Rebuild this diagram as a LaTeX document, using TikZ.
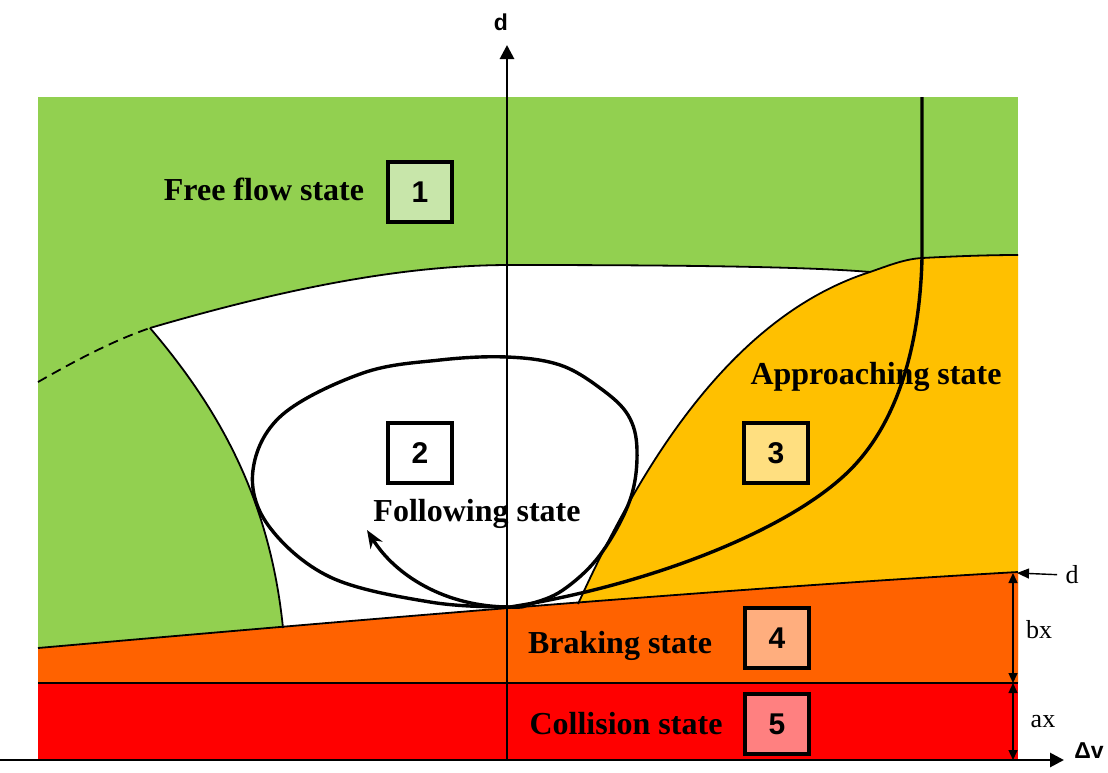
\documentclass[tikz,border=0pt]{standalone}
\usepackage{fontspec}
\setmainfont{Liberation Serif}
\setsansfont{Liberation Sans}
\usepackage{xcolor}
\usepackage{tikz}
\usetikzlibrary{arrows.meta}

\definecolor{freegreen}{HTML}{92D050}
\definecolor{approachyellow}{HTML}{FFC000}
\definecolor{brakeorange}{HTML}{FF6200}
\definecolor{collisionred}{HTML}{FF0000}
\definecolor{boxgreen}{HTML}{C8E6AA}
\definecolor{boxyellow}{HTML}{FFDF80}
\definecolor{boxorange}{HTML}{FFAE7E}
\definecolor{boxred}{HTML}{FF8080}

\begin{document}
\begin{tikzpicture}[x=0.5pt, y=-0.5pt, >=Stealth,
    boundary/.style={draw=black, line width=0.9pt},
    trajectory/.style={draw=black, line width=1.7pt},
    axisline/.style={line width=1.4pt, -{Triangle[length=7pt,width=7pt]}},
    dimline/.style={line width=0.7pt, {Triangle[length=5pt,width=4.5pt]}-{Triangle[length=5pt,width=4.5pt]}},
    statelabel/.style={anchor=base, inner sep=0pt, font=\bfseries\fontsize{16}{18}\selectfont},
    numbox/.style={draw, line width=1.6pt, minimum width=32pt, minimum height=30pt, inner sep=0pt,
                   font=\sffamily\bfseries\fontsize{15}{17}\selectfont},
    axislabel/.style={inner sep=0pt, font=\sffamily\bfseries\fontsize{11.5}{13}\selectfont},
    dimlabel/.style={inner sep=0pt, font=\fontsize{13}{15}\selectfont}]

  \useasboundingbox (0,0) rectangle (1108,772);

  \fill[freegreen] (38,97) rectangle (1018,683);
  \fill[white] (150,328) .. controls (280,290) and (400,265) .. (510,265)
        .. controls (650,265) and (800,266) .. (870,272)
        .. controls (720,320) and (630,490) .. (578,604) -- (565,660) -- (285,660) -- (283,628)
        .. controls (270,500) and (220,410) .. (150,328) -- cycle;
  \fill[approachyellow] (578,604) .. controls (630,490) and (720,320) .. (870,272)
        .. controls (890,265) and (905,259) .. (922,258)
        .. controls (960,256) and (990,255) .. (1018,255) -- (1018,660) -- (565,660) -- cycle;
  \fill[brakeorange] (38,648) .. controls (300,625) and (700,590) .. (1018,572)
        -- (1018,683) -- (38,683) -- cycle;
  \fill[collisionred] (38,683) rectangle (1018,760);

  \draw[boundary, dash pattern=on 5pt off 3pt] (38,382) .. controls (80,358) and (115,340) .. (150,328);
  \draw[boundary] (150,328) .. controls (280,290) and (400,265) .. (510,265)
        .. controls (650,265) and (800,266) .. (870,272)
        .. controls (890,265) and (905,259) .. (922,258)
        .. controls (960,256) and (990,255) .. (1018,255);
  \draw[boundary] (150,328) .. controls (220,410) and (270,500) .. (283,628);
  \draw[boundary] (578,604) .. controls (630,490) and (720,320) .. (870,272);
  \draw[boundary] (38,648) .. controls (300,625) and (700,590) .. (1018,572);
  \draw[boundary] (38,683) -- (1018,683);

  \draw[trajectory] plot[smooth cycle, tension=0.6] coordinates {
        (510,607) (430,602) (330,577) (268,525) (253,470) (282,415) (363,373) (440,360)
        (507,357) (560,365) (600,388) (628,415) (637,450) (630,500) (600,555) (563,590) (530,604)};
  \draw[trajectory, -{Stealth[length=9pt,width=7pt]}] (510,607) .. controls (445,607) and (395,575) .. (367,530);
  \draw[trajectory] (510,607) .. controls (650,585) and (790,530) .. (850,470)
        .. controls (900,420) and (920,340) .. (922,258) -- (922,97);

  \coordinate (origin) at (507,760);
  \coordinate (dtop) at (507,45);
  \coordinate (hleft) at (0,760);
  \coordinate (hright) at (1064,760);
  \draw[axisline] (origin) -- (dtop);
  \draw[axisline] (hleft) -- (hright);
  \node[axislabel] (dlab) at (501,22) {d};
  \node[axislabel, anchor=base] (dvlab) at (1089,758) {Δv};

  \coordinate (dimtop) at (1013,573);
  \coordinate (dimmid) at (1013,683);
  \coordinate (dimbot) at (1013,760);
  \coordinate (dreftip) at (1017,573);
  \draw[dimline] (dimtop) -- (dimmid);
  \draw[dimline] (dimmid) -- (dimbot);
  \node[dimlabel] (dref) at (1072,575) {d};
  \node[dimlabel] (bxlab) at (1039,630) {bx};
  \node[dimlabel] (axlab) at (1043,722) {ax};
  \draw[line width=0.7pt, -{Triangle[length=6pt,width=5pt]}, shorten <=4pt] (dref.west) -- (dreftip);

  \node[statelabel] (freelab) at (264,200) {Free flow state};
  \node[numbox, fill=boxgreen] (box1) at (420,192) {1};
  \node[numbox, fill=white] (box2) at (420,453) {2};
  \node[statelabel] (followlab) at (477,521) {Following state};
  \node[numbox, fill=boxyellow] (box3) at (776,453) {3};
  \node[statelabel] (approachlab) at (876,384) {Approaching state};
  \node[statelabel] (brakelab) at (620,653) {Braking state};
  \node[numbox, fill=boxorange] (box4) at (777,638) {4};
  \node[statelabel] (collidelab) at (626,734) {Collision state};
  \node[numbox, fill=boxred] (box5) at (777,724) {5};
\end{tikzpicture}
\end{document}
